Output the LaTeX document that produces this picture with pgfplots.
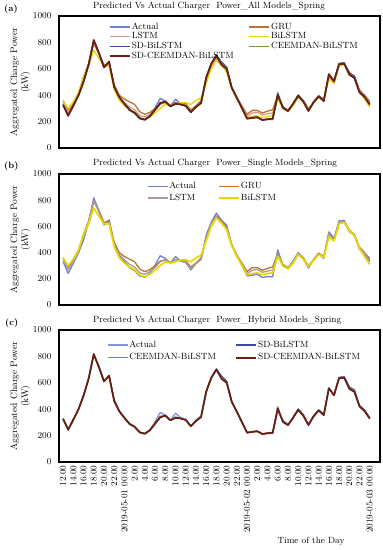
\documentclass[border=0pt]{standalone}
\usepackage{pgfplots}
\usepackage{pgfplotstable}
\pgfplotsset{compat=1.18}
\definecolor{cAct}{HTML}{7080D0}
\definecolor{cActL}{HTML}{8494E2}
\definecolor{cGRU}{HTML}{B87530}
\definecolor{cLSTM}{HTML}{D09A95}
\definecolor{cLSTMb}{HTML}{A89C9C}
\definecolor{cBi}{HTML}{E8D800}
\definecolor{cSDB}{HTML}{3C4A9E}
\definecolor{cCB}{HTML}{6A9C3C}
\definecolor{cSC}{HTML}{6B1E10}

\pgfplotstableread{
i A G L B SB CB SC
0 331 360 345 360 330 328 325
1 242 290 270 300 248 245 245
2 318 340 330 350 320 318 322
3 396 410 400 420 400 395 398
4 495 540 520 540 500 498 505
5 634 640 640 620 635 632 630
6 818 790 800 740 812 815 818
7 722 720 710 680 722 718 720
8 614 630 610 620 612 612 610
9 650 640 630 620 650 652 655
10 470 480 465 445 470 465 460
11 381 400 385 360 385 382 385
12 331 370 345 320 335 332 335
13 285 350 310 290 288 286 290
14 262 330 290 270 265 265 268
15 222 275 245 230 225 224 225
16 212 255 235 215 215 214 215
17 242 270 255 235 245 242 240
18 305 300 285 265 295 292 290
19 376 335 330 300 345 340 338
20 356 345 345 330 350 350 352
21 318 325 320 320 315 316 315
22 369 345 345 330 340 336 335
23 336 340 340 345 330 332 330
24 323 335 325 345 320 320 318
25 268 290 280 330 270 270 272
26 318 320 315 360 315 312 310
27 348 360 350 380 345 342 340
28 533 510 510 490 530 532 535
29 634 620 625 600 640 636 640
30 702 680 675 665 705 700 700
31 646 640 630 625 650 640 630
32 609 590 585 575 612 602 600
33 457 460 455 450 460 456 455
34 381 380 375 370 382 380 380
35 305 320 310 300 305 302 300
36 222 255 240 230 225 223 222
37 228 285 265 240 230 228 228
38 235 285 270 245 235 233 232
39 210 265 250 230 213 212 212
40 217 280 260 240 220 218 218
41 215 290 265 245 220 220 222
42 420 395 390 370 395 400 405
43 300 310 300 300 315 308 305
44 278 285 280 275 282 280 280
45 336 330 330 320 338 335 335
46 400 390 395 385 402 398 395
47 356 360 350 350 358 352 350
48 282 300 290 295 285 282 280
49 348 345 345 340 350 346 345
50 394 395 390 385 395 392 390
51 356 370 360 365 360 356 355
52 558 540 545 520 555 558 560
53 508 500 490 490 510 506 505
54 642 630 630 620 640 637 635
55 645 635 635 630 645 640 638
56 565 575 560 570 568 560 555
57 540 535 530 530 545 535 530
58 424 440 430 430 428 422 420
59 389 400 395 370 392 387 385
60 331 355 345 310 335 330 328
}\data

\pgfplotsset{
  myax/.style={
    scale only axis, width=321pt, height=132pt,
    xmin=-0.8, xmax=62, ymin=0, ymax=1000,
    ytick={0,200,...,1000},
    /pgf/number format/1000 sep={},
    axis line style={line width=1.3pt, black},
    major tick length=0pt,
    tick label style={font=\fontsize{9}{10}\selectfont},
    yticklabel style={xshift=-4pt},
    every axis y label/.style={at={(axis description cs:-0.12,0.5)}, rotate=90, anchor=center, align=center, font=\fontsize{9.5}{11}\selectfont},
    ylabel={Aggregated Charge Power\\(kW)},
    legend style={draw=none, fill=none, inner sep=0pt, outer sep=0pt, column sep=0pt,
      nodes={inner sep=1pt, text height=6.3pt, text depth=2pt, anchor=west, font=\fontsize{9}{10}\selectfont}},
    legend columns=2,
    legend cell align=left,
    legend image code/.code={\draw[##1] (0pt,0pt) -- (20pt,0pt);},
    every axis plot/.append style={line width=1.3pt, line join=round},
  }
}

\begin{document}
\begin{tikzpicture}[x=1pt,y=1pt]
\useasboundingbox (0pt,0pt) rectangle (383pt,-550pt);

% ---------- (a)
\node[anchor=west, font=\bfseries\fontsize{9}{10}\selectfont, inner sep=0] at (4pt,-9.5pt) {(a)};
\node[anchor=west, font=\fontsize{9}{10}\selectfont, inner sep=0] at (93pt,-6pt) {Predicted Vs Actual Charger\ \ Power\_All Models\_Spring};
\begin{axis}[myax, at={(59pt,-16pt)}, anchor=north west, xtick=\empty,
  legend style={at={(axis description cs:0.156,0.955)}, anchor=north west, row sep=-0.6pt}]
\addplot[cAct] table[x=i,y=A]{\data}; \addlegendentry{\makebox[116pt][l]{Actual}}
\addplot[cGRU] table[x=i,y=G]{\data}; \addlegendentry{GRU}
\addplot[cLSTM] table[x=i,y=L]{\data}; \addlegendentry{\makebox[116pt][l]{LSTM}}
\addplot[cBi] table[x=i,y=B]{\data}; \addlegendentry{BiLSTM}
\addplot[cSDB] table[x=i,y=SB]{\data}; \addlegendentry{\makebox[116pt][l]{SD-BiLSTM}}
\addplot[cCB] table[x=i,y=CB]{\data}; \addlegendentry{CEEMDAN-BiLSTM}
\addplot[cSC, line width=1.7pt] table[x=i,y=SC]{\data}; \addlegendentry{\makebox[116pt][l]{SD-CEEMDAN-BiLSTM}}
\end{axis}

% ---------- (b)
\node[anchor=west, font=\bfseries\fontsize{9}{10}\selectfont, inner sep=0] at (4pt,-166pt) {(b)};
\node[anchor=west, font=\fontsize{9}{10}\selectfont, inner sep=0] at (93pt,-163.5pt) {Predicted Vs Actual Charger\ \ Power\_Single Models\_Spring};
\begin{axis}[myax, at={(59pt,-174pt)}, anchor=north west, height=131pt, xtick=\empty,
  legend style={at={(axis description cs:0.274,0.943)}, anchor=north west, row sep=1pt}]
\addplot[cAct] table[x=i,y=A]{\data}; \addlegendentry{\makebox[48pt][l]{Actual}}
\addplot[cGRU] table[x=i,y=G]{\data}; \addlegendentry{GRU}
\addplot[cLSTMb] table[x=i,y=L]{\data}; \addlegendentry{\makebox[48pt][l]{LSTM}}
\addplot[cBi, line width=1.7pt] table[x=i,y=B]{\data}; \addlegendentry{BiLSTM}
\end{axis}

% ---------- (c)
\node[anchor=west, font=\bfseries\fontsize{9}{10}\selectfont, inner sep=0] at (5pt,-323.5pt) {(c)};
\node[anchor=west, font=\fontsize{9}{10}\selectfont, inner sep=0] at (93pt,-320.5pt) {Predicted Vs Actual Charger\ \ Power\_Hybrid Models\_Spring};
\begin{axis}[myax, at={(59pt,-330pt)}, anchor=north west,
  xtick={0,2,...,60},
  xticklabels={12.00,14.00,16.00,18.00,20.00,22.00,2019-05-01 00.00,2.00,4.00,6.00,8.00,10.00,12.00,14.00,16.00,18.00,20.00,22.00,2019-05-02 00.00,2.00,4.00,6.00,8.00,10.00,12.00,14.00,16.00,18.00,20.00,22.00,2019-05-03 00.00},
  xticklabel style={rotate=90, anchor=east},
  legend style={at={(axis description cs:0.150,0.926)}, anchor=north west, row sep=2.5pt}]
\addplot[cActL] table[x=i,y=A]{\data}; \addlegendentry{\makebox[105pt][l]{Actual}}
\addplot[cSDB] table[x=i,y=SB]{\data}; \addlegendentry{SD-BiLSTM}
\addplot[cCB] table[x=i,y=CB]{\data}; \addlegendentry{\makebox[105pt][l]{CEEMDAN-BiLSTM}}
\addplot[cSC, line width=1.7pt] table[x=i,y=SC]{\data}; \addlegendentry{SD-CEEMDAN-BiLSTM}
\end{axis}
\node[font=\fontsize{9}{10}\selectfont, inner sep=0] at (311pt,-541pt) {Time of the Day};
\end{tikzpicture}
\end{document}
